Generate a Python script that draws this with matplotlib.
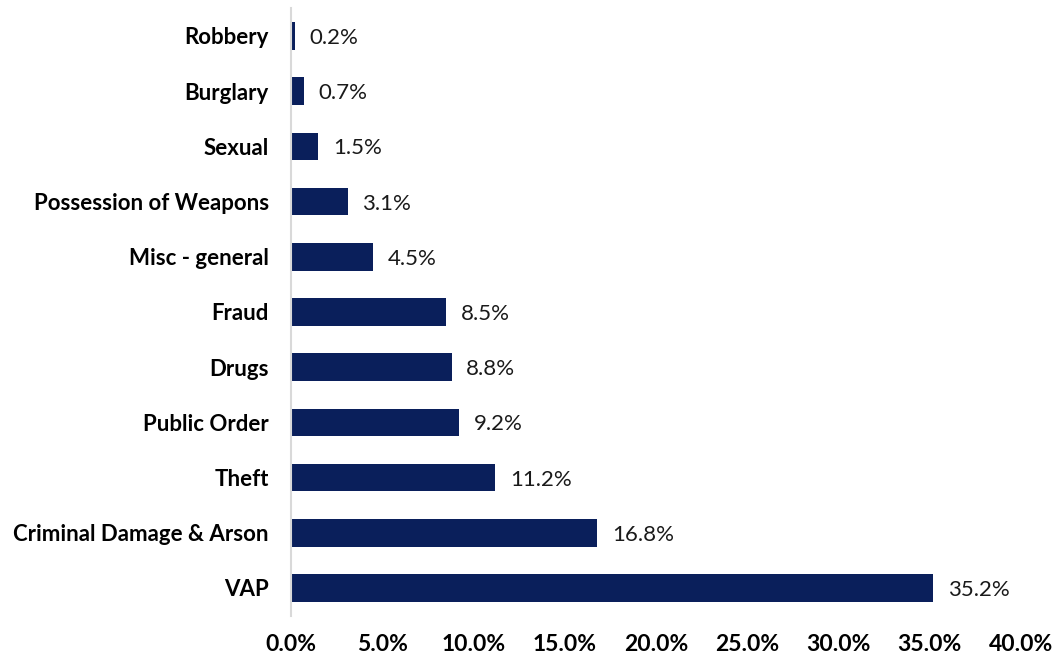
import matplotlib
matplotlib.use("Agg")
import matplotlib.pyplot as plt
from matplotlib.ticker import FuncFormatter, MultipleLocator

categories = ["Robbery", "Burglary", "Sexual", "Possession of Weapons", "Misc - general",
              "Fraud", "Drugs", "Public Order", "Theft", "Criminal Damage & Arson", "VAP"]
shares = [0.2, 0.7, 1.5, 3.1, 4.5, 8.5, 8.8, 9.2, 11.2, 16.8, 35.2]

plt.rcParams["font.family"] = ["Lato", "DejaVu Sans"]

W, H = 1052, 656
fig = plt.figure(figsize=(W / 100, H / 100), dpi=100)
ax = fig.add_axes([291 / W, 1 - 615.6 / H, (1020.6 - 291) / W, (615.6 - 8.4) / H])

bar_color = "#0a1f5b"
ypos = list(range(len(categories)))
ax.barh(ypos, shares, height=0.5, color=bar_color)
ax.set_ylim(len(categories) - 0.5, -0.5)
ax.set_xlim(0, 40)

for y, v in zip(ypos, shares):
    ax.annotate(f"{v:.1f}%", xy=(v, y), xytext=(10.5, -1.5), textcoords="offset points",
                va="center", ha="left", fontsize=16, color="#1a1a1a")

ax.set_yticks(ypos)
ax.set_yticklabels(categories, fontsize=16, fontweight="bold")
ax.xaxis.set_major_locator(MultipleLocator(5))
ax.xaxis.set_major_formatter(FuncFormatter(lambda x, _: f"{x:.1f}%"))
for lab in ax.get_xticklabels():
    lab.set_fontsize(16.5)
    lab.set_fontweight("bold")

ax.tick_params(axis="y", length=0, pad=16)
ax.tick_params(axis="x", length=0, pad=13)
for s in ["top", "right", "bottom"]:
    ax.spines[s].set_visible(False)
ax.spines["left"].set_color("#d9d9d9")
ax.spines["left"].set_linewidth(1.5)

fig.savefig("out.png", dpi=100)
